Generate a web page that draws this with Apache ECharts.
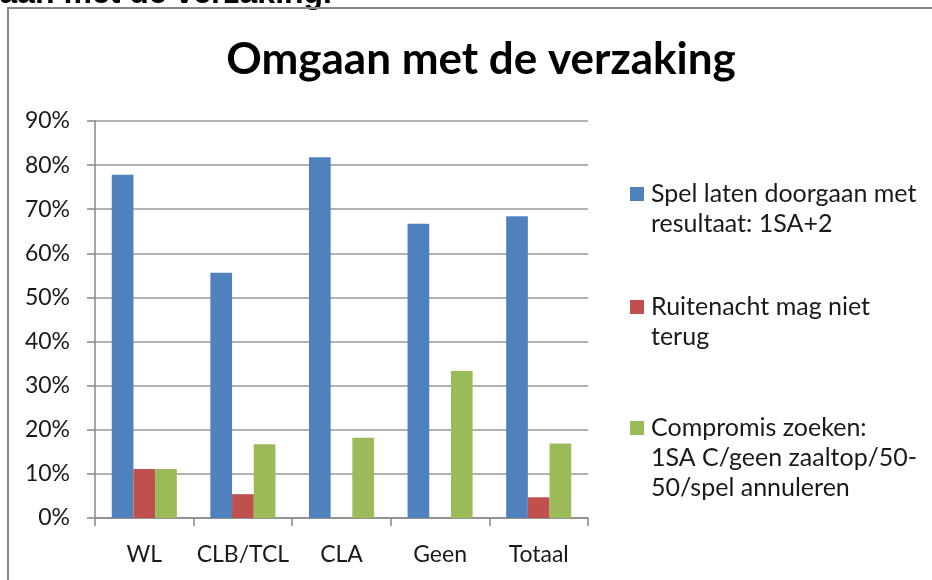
<!DOCTYPE html>
<html>
<head>
<meta charset="utf-8">
<script src="https://cdn.jsdelivr.net/npm/echarts@6/dist/echarts.min.js"></script>
<style>
  html, body { margin: 0; padding: 0; background: #fff; }
  #chart { width: 932px; height: 580px; }
</style>
</head>
<body>
<div id="chart"></div>
<script>
const categories = ['WL', 'CLB/TCL', 'CLA', 'Geen', 'Totaal'];
const seriesNames = [
  'Spel laten doorgaan met resultaat: 1SA+2',
  'Ruitenacht mag niet terug',
  'Compromis zoeken: 1SA C/geen zaaltop/50-50/spel annuleren'
];
// legend text as wrapped in the original
const legendLines = [
  ['Spel laten doorgaan met', 'resultaat: 1SA+2'],
  ['Ruitenacht mag niet', 'terug'],
  ['Compromis zoeken:', '1SA C/geen zaaltop/50-', '50/spel annuleren']
];
const doorgaan = [77.8, 55.6, 81.8, 66.7, 68.4];
const ruitenacht = [11.1, 5.4, 0, 0, 4.7];
const compromis = [11.1, 16.7, 18.2, 33.3, 16.9];
const colors = ['#4F81BD', '#C0504D', '#9BBB59'];

const chart = echarts.init(document.getElementById('chart'));

const font = 'Lato, "Noto Sans", sans-serif';
const lineH = 30;
const legendCenters = [194, 307, 428]; // first line of each legend entry

// one legend per entry so the square sits on the first line
const legends = seriesNames.map((name, i) => {
  const n = legendLines[i].length;
  const pad = new Array(n - 1).fill('');
  return {
    data: [name],
    orient: 'vertical',
    left: 630,
    top: legendCenters[i] - (2 * n - 1) * lineH / 2,
    padding: 0,
    itemWidth: 14,
    itemHeight: 14,
    icon: 'rect',
    selectedMode: false,
    formatter: () => pad.concat(legendLines[i]).join('\n'),
    textStyle: { fontFamily: font, fontSize: 25, color: '#1a1a1a', lineHeight: lineH, padding: [0, 0, 0, 2] }
  };
});

chart.setOption({
  backgroundColor: '#ffffff',
  color: colors,
  animation: false,
  title: {
    text: 'Omgaan met de verzaking',
    left: 476,
    textAlign: 'center',
    top: 33,
    textStyle: { fontFamily: font, fontWeight: 'bold', fontSize: 44, color: '#000' }
  },
  graphic: [
    {
      type: 'text',
      x: 332,
      y: 10,
      style: {
        text: 'Omgaan met de verzaking.',
        font: 'bold 32px "Liberation Sans", Arial, sans-serif',
        fill: '#000',
        align: 'right',
        verticalAlign: 'bottom'
      }
    },
    {
      type: 'rect',
      shape: { x: 8, y: 8, width: 940, height: 600 },
      style: { fill: 'none', stroke: '#888', lineWidth: 2 }
    }
  ],
  legend: legends,
  grid: { left: 95, right: 344, top: 121, bottom: 62 },
  xAxis: {
    type: 'category',
    data: categories,
    axisLine: { lineStyle: { color: '#888', width: 1.5 } },
    axisTick: { show: true, length: 8, lineStyle: { color: '#888', width: 1.5 } },
    axisLabel: { interval: 0, fontFamily: font, fontSize: 23, color: '#1a1a1a', margin: 25 }
  },
  yAxis: {
    type: 'value',
    min: 0,
    max: 90,
    interval: 10,
    axisLine: { show: true, lineStyle: { color: '#888', width: 1.5 } },
    axisTick: { show: true, length: 8, lineStyle: { color: '#888', width: 1.5 } },
    splitLine: { lineStyle: { color: '#999', width: 1.5 } },
    axisLabel: { fontFamily: font, fontSize: 23, color: '#1a1a1a', margin: 25, formatter: '{value}%' }
  },
  series: [
    { name: seriesNames[0], type: 'bar', data: doorgaan, barGap: '0%', barCategoryGap: '34%' },
    { name: seriesNames[1], type: 'bar', data: ruitenacht, barGap: '0%', barCategoryGap: '34%' },
    { name: seriesNames[2], type: 'bar', data: compromis, barGap: '0%', barCategoryGap: '34%' }
  ]
});
</script>
</body>
</html>
